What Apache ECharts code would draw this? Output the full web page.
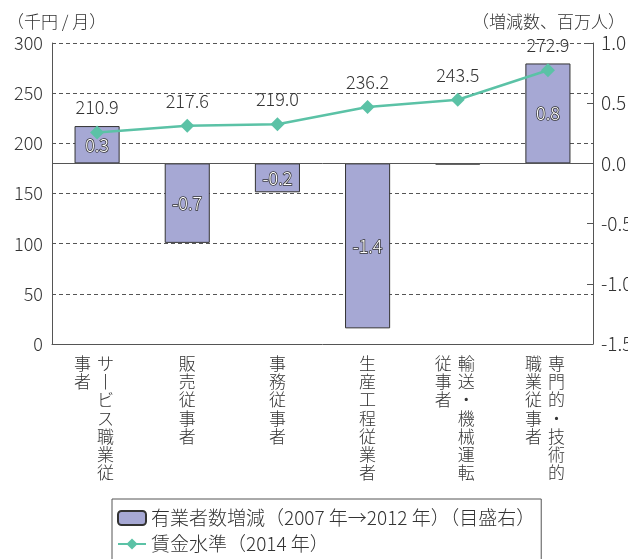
<!DOCTYPE html>
<html><head><meta charset="utf-8">
<script src="https://cdn.jsdelivr.net/npm/echarts@6/dist/echarts.min.js"></script>
<style>html,body{margin:0;padding:0;background:#fff}#c{width:628px;height:559px}</style>
</head><body><div id="c"></div>
<script>
var categories = ['サービス職業従事者','販売従事者','事務従事者','生産工程従業者','輸送・機械運転従事者','専門的・技術的職業従事者'];
var workerChange = [0.31, -0.66, -0.24, -1.37, -0.01, 0.83];
var wageLevel = [210.9, 217.6, 219.0, 236.2, 243.5, 272.9];
var leftTicks = {min: 0, max: 300, interval: 50};
var rightTicks = {min: -1.5, max: 1.0, interval: 0.5};
var barName = '有業者数増減（2007 年→2012 年）（目盛右）';
var lineName = '賃金水準（2014 年）';
var leftUnit = '（千円 / 月）';
var rightUnit = '（増減数、百万人）';

var FONT = '"Noto Sans CJK JP", "Noto Sans", sans-serif';
var TXT = '#333';
var COL_LEN = 7;

function verticalLabel(name) {
  var s = name.replace(/ー/g, '丨');
  var cols = [];
  for (var i = 0; i < s.length; i += COL_LEN) cols.push(s.slice(i, i + COL_LEN));
  var rows = [];
  for (var r = 0; r < cols[0].length; r++) {
    if (cols.length === 1) {
      rows.push('{c|' + cols[0][r] + '}');
    } else {
      var left = cols[1][r] || '　';
      rows.push('{c|' + left + '}{c|' + cols[0][r] + '}{p|}');
    }
  }
  return rows.join('\n');
}

var chart = echarts.init(document.getElementById('c'), null, {renderer: 'canvas'});
chart.setOption({
  animation: false,
  textStyle: {fontFamily: FONT, color: TXT},
  title: [
    {text: leftUnit, left: 2, top: 8, textStyle: {fontFamily: FONT, fontSize: 17, fontWeight: 300, color: TXT}},
    {text: rightUnit, right: -2, top: 8, textStyle: {fontFamily: FONT, fontSize: 17, fontWeight: 300, color: TXT}}
  ],
  grid: {left: 52, right: 35, top: 43, bottom: 215, containLabel: false, outerBoundsMode: 'none'},
  legend: {
    orient: 'vertical', left: 112, top: 499, height: 80,
    padding: [9, 6, 30, 5],
    borderColor: '#555', borderWidth: 1,
    itemWidth: 28, itemHeight: 14, itemGap: 6,
    textStyle: {fontFamily: FONT, fontSize: 19, fontWeight: 300, color: TXT, lineHeight: 20},
    data: [barName, lineName]
  },
  xAxis: {
    type: 'category', data: categories, boundaryGap: true,
    axisLine: {lineStyle: {color: '#555', width: 1}},
    axisTick: {inside: true, length: 6, lineStyle: {color: '#555'}},
    axisLabel: {
      interval: 0, margin: 10,
      formatter: verticalLabel,
      rich: {
        c: {fontFamily: FONT, fontSize: 17, fontWeight: 300, color: TXT, width: 23, align: 'center', lineHeight: 18.3, height: 18.3},
        p: {width: 6, height: 18.3, lineHeight: 18.3}
      }
    }
  },
  yAxis: [
    {
      type: 'value', min: leftTicks.min, max: leftTicks.max, interval: leftTicks.interval,
      axisLine: {show: true, lineStyle: {color: '#555'}},
      axisTick: {show: false},
      axisLabel: {fontFamily: FONT, fontSize: 18, fontWeight: 300, color: TXT, margin: 9},
      splitLine: {show: true, lineStyle: {color: '#555', type: [4, 3], width: 1}}
    },
    {
      type: 'value', min: rightTicks.min, max: rightTicks.max, interval: rightTicks.interval,
      position: 'right',
      axisLine: {show: true, lineStyle: {color: '#555'}},
      axisTick: {show: true, inside: true, length: 6, lineStyle: {color: '#555'}},
      axisLabel: {fontFamily: FONT, fontSize: 19, fontWeight: 300, color: TXT, margin: 8,
        formatter: function (v) { return v.toFixed(1); }},
      splitLine: {show: false}
    }
  ],
  series: [
    {
      name: barName, type: 'bar', yAxisIndex: 1, data: workerChange, barWidth: '50%',
      itemStyle: {color: '#a6a8d4', borderColor: '#333', borderWidth: 1},
      label: {
        show: true, position: 'inside',
        fontFamily: FONT, fontSize: 18, fontWeight: 300, color: '#fff',
        textBorderColor: '#333', textBorderWidth: 1.5,
        formatter: function (p) { return Math.abs(p.value) < 0.05 ? '' : p.value.toFixed(1); }
      },
      markLine: {
        silent: true, symbol: 'none', label: {show: false},
        lineStyle: {color: '#555', type: 'solid', width: 1},
        data: [{yAxis: 0}]
      },
      z: 2
    },
    {
      name: lineName, type: 'line', yAxisIndex: 0, data: wageLevel,
      symbol: 'diamond', symbolSize: 14,
      lineStyle: {color: '#5bc2a6', width: 2.5},
      itemStyle: {color: '#5bc2a6'},
      label: {show: true, position: 'top', distance: 9, fontFamily: FONT, fontSize: 18, fontWeight: 300, color: TXT,
        formatter: function (p) { return p.value.toFixed(1); }},
      z: 3
    }
  ]
});
</script></body></html>
